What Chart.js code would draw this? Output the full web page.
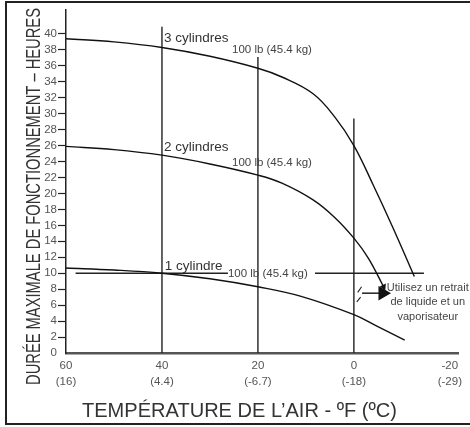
<!DOCTYPE html>
<html lang="fr">
<head>
<meta charset="utf-8">
<title>Durée maximale de fonctionnement</title>
<script src="https://cdn.jsdelivr.net/npm/chart.js@4.4.1/dist/chart.umd.min.js"></script>
<style>
  html, body { margin: 0; padding: 0; background: #fff; }
  #wrap { position: relative; width: 470px; height: 427px; }
</style>
</head>
<body>
<div id="wrap"><canvas id="chart"></canvas></div>
<script>
// Valeurs : température (ºF) -> heures
const temps3 = [60, 50, 40, 30, 20, 15, 8.5, 4, 0, -4, -8, -12.6];
const hours3 = [39.4, 39.0, 38.3, 37.2, 35.7, 34.6, 32.5, 29.6, 26.0, 21.1, 15.9, 9.6];

const temps2 = [60, 50, 40, 30, 20, 15, 8.5, 4, 0, -3, -6.2];
const hours2 = [25.9, 25.5, 24.8, 23.7, 22.3, 21.3, 19.2, 17.0, 14.4, 11.9, 8.3];

const temps1 = [60, 50, 40, 30, 20, 11, 0, -5, -10.6];
const hours1 = [10.65, 10.4, 10.0, 9.3, 8.3, 7.1, 4.8, 3.3, 1.6];

// Axes
const xTicks = [60, 40, 20, 0, -20];
const xTicksC = ['(16)', '(4.4)', '(-6.7)', '(-18)', '(-29)'];
const yTicks = [0, 2, 4, 6, 8, 10, 12, 14, 16, 18, 20, 22, 24, 26, 28, 30, 32, 34, 36, 38, 40];

// Lignes de repère verticales et ligne de limite à 10 h
const refTemps = [40, 20, 0];
const refTops = [40.9, 37.1, 29.4];
const limitTemps = [58, 26.25, 17, 8.1, -14.6];
const limitHours = [10, 10, null, 10, 10];

// Flèche et marques de coupure
const arrowTemps = [-1.7, -6.0];
const arrowHours = [7.5, 7.5];
const breakTemps = [-0.8, -1.6, -1.2, -0.6, -1.4];
const breakHours = [7.6, 8.3, null, 6.4, 7.0];

// Textes
const curveLabels = ['3 cylindres', '2 cylindres', '1 cylindre'];
const curveLabelTemps = [39.6, 39.6, 39.4];
const curveLabelHours = [39.4, 25.75, 10.9];
const weightLabel = '100 lb (45.4 kg)';
const weightTemps = [25.4, 25.4, 26.25];
const weightHours = [38.0, 23.9, 9.9];
const noteLines = ['Utilisez un retrait', 'de liquide et un', 'vaporisateur'];
const noteTemp = -15.4;
const noteHours = [8.15, 6.4, 4.5];

const xTitle = 'TEMPÉRATURE DE L’AIR - ºF (ºC)';
const yTitle = 'DURÉE MAXIMALE DE FONCTIONNEMENT – HEURES';

const FONT = '"Liberation Sans", Arial, sans-serif';

function toPoints(xs, ys) {
    return xs.map((x, i) => ({ x: x, y: ys[i] }));
}

function curve(xs, ys) {
    return {
        data: toPoints(xs, ys),
        borderColor: '#111',
        borderWidth: 1.4,
        pointRadius: 0,
        tension: 0.4
    };
}

function straight(points, width) {
    return {
        data: points,
        borderColor: '#222',
        borderWidth: width || 1.4,
        pointRadius: 0,
        spanGaps: false
    };
}

// Courbe 2 cylindres terminée par une petite pointe de flèche
const curve2 = curve(temps2, hours2);
curve2.pointRadius = temps2.map((t, i) => i === temps2.length - 1 ? 2.5 : 0);
curve2.pointStyle = 'triangle';
curve2.rotation = 155;
curve2.pointBackgroundColor = '#111';
curve2.pointBorderColor = '#111';

const arrow = straight(toPoints(arrowTemps, arrowHours), 1.4);
arrow.pointRadius = [0, 7];
arrow.pointStyle = 'triangle';
arrow.rotation = 90;
arrow.pointBackgroundColor = '#111';
arrow.pointBorderColor = '#111';
arrow.borderColor = '#111';

const datasets = [
    curve(temps3, hours3),
    curve2,
    curve(temps1, hours1),
    straight(toPoints(limitTemps, limitHours), 1.4),
    straight(toPoints(breakTemps, breakHours), 1.1),
    arrow
];
refTemps.forEach((t, i) => {
    datasets.push(straight([{ x: t, y: 0 }, { x: t, y: refTops[i] }], 1.4));
});

// Texte resserré horizontalement pour tenir dans une largeur donnée
function drawFitted(ctx, text, x, y, width, angle) {
    ctx.save();
    ctx.translate(x, y);
    ctx.rotate(angle);
    const w = ctx.measureText(text).width;
    ctx.scale(width / w, 1);
    ctx.fillText(text, 0, 0);
    ctx.restore();
}

const textPlugin = {
    id: 'textes',
    beforeDraw(chart) {
        const ctx = chart.ctx;
        ctx.save();
        ctx.fillStyle = '#fff';
        ctx.fillRect(0, 0, chart.width, chart.height);
        ctx.strokeStyle = '#222';
        ctx.lineWidth = 2;
        ctx.strokeRect(6, 2, 480, 422);
        ctx.restore();
    },
    afterDraw(chart) {
        const ctx = chart.ctx;
        const xs = chart.scales.x;
        const ys = chart.scales.y;
        ctx.save();
        ctx.textBaseline = 'middle';
        ctx.textAlign = 'left';

        ctx.fillStyle = '#333';
        ctx.font = '13.5px ' + FONT;
        curveLabels.forEach((label, i) => {
            ctx.fillText(label, xs.getPixelForValue(curveLabelTemps[i]), ys.getPixelForValue(curveLabelHours[i]));
        });

        ctx.fillStyle = '#444';
        ctx.font = '11.5px ' + FONT;
        weightTemps.forEach((t, i) => {
            ctx.fillText(weightLabel, xs.getPixelForValue(t), ys.getPixelForValue(weightHours[i]));
        });

        ctx.textAlign = 'center';
        ctx.font = '11px ' + FONT;
        noteLines.forEach((line, i) => {
            ctx.fillText(line, xs.getPixelForValue(noteTemp), ys.getPixelForValue(noteHours[i]));
        });

        // Titres des axes
        ctx.fillStyle = '#333';
        ctx.textBaseline = 'alphabetic';
        ctx.font = '20px ' + FONT;
        drawFitted(ctx, xTitle, 239.5, 417, 315, 0);
        drawFitted(ctx, yTitle, 40, 196.5, 377, -Math.PI / 2);
        ctx.restore();
    }
};

new Chart(document.getElementById('chart'), {
    type: 'line',
    data: { datasets: datasets },
    plugins: [textPlugin],
    options: {
        responsive: true,
        maintainAspectRatio: false,
        animation: false,
        layout: { padding: { left: 0, top: 10, right: 12, bottom: 0 } },
        plugins: {
            legend: { display: false },
            tooltip: { enabled: false }
        },
        scales: {
            x: {
                type: 'linear',
                reverse: true,
                min: -21.7,
                max: 60,
                afterBuildTicks: (scale) => {
                    scale.ticks = xTicks.map(v => ({ value: v }));
                },
                afterFit: (scale) => { scale.height = 74; },
                grid: { display: false, drawTicks: false },
                border: { display: true, color: '#555', width: 2.5 },
                ticks: {
                    padding: 4,
                    color: '#555',
                    font: { family: FONT, size: 11.5, lineHeight: 1.45 },
                    maxRotation: 0,
                    autoSkip: false,
                    callback: (value) => {
                        const i = xTicks.indexOf(value);
                        return [String(value), xTicksC[i]];
                    }
                }
            },
            y: {
                type: 'linear',
                min: 0,
                max: 43,
                afterBuildTicks: (scale) => {
                    scale.ticks = yTicks.map(v => ({ value: v }));
                },
                afterFit: (scale) => { scale.width = 66; },
                grid: {
                    drawOnChartArea: false,
                    drawTicks: true,
                    tickLength: 8,
                    tickWidth: 1.2,
                    tickColor: (c) => (c.tick && c.tick.value === 0 ? 'rgba(0,0,0,0)' : '#222')
                },
                border: { display: true, color: '#222', width: 1.5 },
                ticks: {
                    padding: 1,
                    color: '#555',
                    autoSkip: false,
                    font: { family: FONT, size: 11.5 }
                }
            }
        }
    }
});
</script>
</body>
</html>
